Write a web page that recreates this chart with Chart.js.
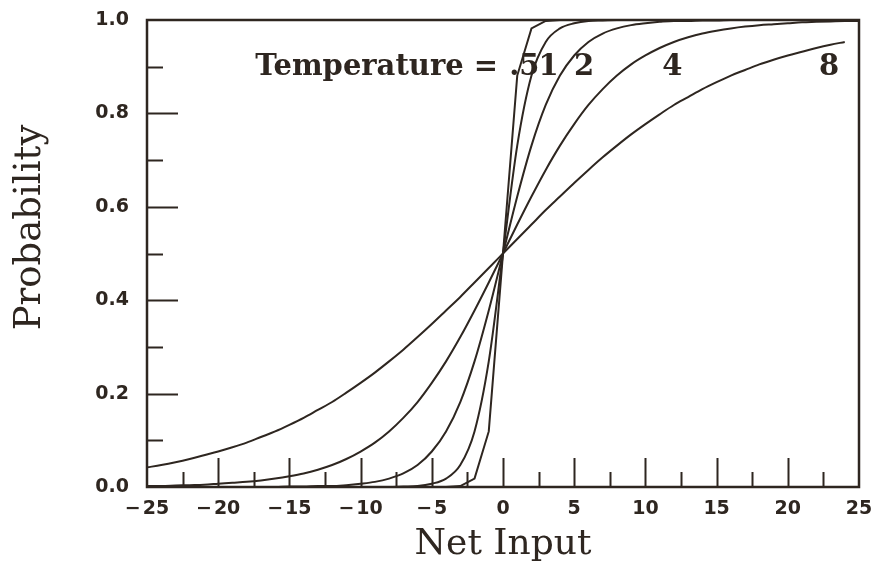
<!DOCTYPE html>
<html>
<head>
<meta charset="utf-8">
<script src="https://cdn.jsdelivr.net/npm/chart.js@4.4.1/dist/chart.umd.min.js"></script>
<style>
  html, body { margin: 0; padding: 0; background: #fff; }
  #wrap { width: 874px; height: 561px; position: relative; }
</style>
</head>
<body>
<div id="wrap"><canvas id="chart"></canvas></div>
<script>
// Net input values (x axis), one per integer step
const netInput = [
  -25, -24, -23, -22, -21, -20, -19, -18, -17, -16, -15, -14, -13, -12, -11, -10,
  -9, -8, -7, -6, -5, -4, -3, -2, -1, 0, 1, 2, 3, 4, 5, 6, 7, 8, 9,
  10, 11, 12, 13, 14, 15, 16, 17, 18, 19, 20, 21, 22, 23, 24, 25
];

// Probability, same order as netInput
const probT05 = [
  0, 0, 0, 0, 0, 0, 0, 0, 0, 0, 0, 0, 0, 0, 0, 0, 0, 0, 0, 0, 0, 0,
  0.002, 0.018, 0.119, 0.5, 0.881, 0.982, 0.998,
  1, 1, 1, 1, 1, 1, 1, 1, 1, 1, 1, 1, 1, 1, 1, 1, 1, 1, 1, 1, 1, 1, 1
];
const probT1 = [
  0, 0, 0, 0, 0, 0, 0, 0, 0, 0, 0, 0, 0, 0, 0, 0, 0, 0,
  0.001, 0.002, 0.007, 0.018, 0.047, 0.119, 0.269, 0.5,
  0.731, 0.881, 0.953, 0.982, 0.993, 0.998, 0.999,
  1, 1, 1, 1, 1, 1, 1, 1, 1, 1, 1, 1, 1, 1, 1, 1, 1, 1
];
const probT2 = [
  0, 0, 0, 0, 0, 0, 0, 0, 0, 0,
  0.001, 0.001, 0.002, 0.002, 0.004, 0.007, 0.011, 0.018, 0.029, 0.047,
  0.076, 0.119, 0.182, 0.269, 0.378, 0.5,
  0.622, 0.731, 0.818, 0.881, 0.924, 0.953, 0.971, 0.982, 0.989, 0.993,
  0.996, 0.998, 0.998, 0.999, 0.999,
  1, 1, 1, 1, 1, 1, 1, 1, 1, 1
];
const probT4 = [
  0.002, 0.002, 0.003, 0.004, 0.005, 0.007, 0.009, 0.011, 0.014, 0.018,
  0.023, 0.029, 0.037, 0.047, 0.060, 0.076, 0.095, 0.119, 0.148, 0.182,
  0.223, 0.269, 0.321, 0.378, 0.438, 0.5,
  0.562, 0.622, 0.679, 0.731, 0.777, 0.818, 0.852, 0.881, 0.905, 0.924,
  0.940, 0.953, 0.963, 0.971, 0.977, 0.982, 0.986, 0.989, 0.991, 0.993,
  0.995, 0.996, 0.997, 0.998, 0.998
];
const probT8 = [
  0.042, 0.047, 0.053, 0.060, 0.068, 0.076, 0.085, 0.095, 0.107, 0.119,
  0.133, 0.148, 0.165, 0.182, 0.202, 0.223, 0.245, 0.269, 0.294, 0.321,
  0.349, 0.378, 0.407, 0.438, 0.469, 0.5,
  0.531, 0.562, 0.593, 0.622, 0.651, 0.679, 0.706, 0.731, 0.755, 0.777,
  0.798, 0.818, 0.835, 0.852, 0.867, 0.881, 0.893, 0.905, 0.915, 0.924,
  0.932, 0.940, 0.947, 0.953, null
];

const temperatures = ['.5', '1', '2', '4', '8'];
const seriesValues = [probT05, probT1, probT2, probT4, probT8];

const INK = '#2e2620';
const SERIF = 'DejaVu Serif';

// tick marks point inward, long at labelled values, short in between
const frameAndTicks = {
  id: 'frameAndTicks',
  afterDatasetsDraw(chart) {
    const { ctx, chartArea: a, scales: { x, y } } = chart;
    ctx.save();
    ctx.strokeStyle = INK;
    ctx.lineWidth = 2;
    ctx.beginPath();
    x.ticks.forEach(t => {
      if (t.value <= x.min || t.value >= x.max) return;
      const px = Math.round(x.getPixelForValue(t.value)) + 0.5;
      const len = t.value % 5 === 0 ? 29 : 15;
      ctx.moveTo(px, a.bottom);
      ctx.lineTo(px, a.bottom - len);
    });
    y.ticks.forEach(t => {
      if (t.value <= y.min || t.value >= y.max) return;
      const py = Math.round(y.getPixelForValue(t.value)) + 0.5;
      const len = Math.round(t.value * 10) % 2 === 0 ? 31 : 16;
      ctx.moveTo(a.left, py);
      ctx.lineTo(a.left + len, py);
    });
    ctx.stroke();
    ctx.lineWidth = 2.5;
    ctx.strokeRect(a.left, a.top, a.right - a.left, a.bottom - a.top);
    ctx.restore();
  }
};

// "Temperature = .5 1 2 4 8" labels placed along the top of the curves
const tempLabels = {
  id: 'tempLabels',
  afterDatasetsDraw(chart, args, opts) {
    const { ctx, scales: { x, y } } = chart;
    ctx.save();
    ctx.fillStyle = INK;
    ctx.font = `bold 29px "${SERIF}"`;
    ctx.textBaseline = 'alphabetic';
    const by = y.getPixelForValue(opts.baseline);
    ctx.textAlign = 'right';
    ctx.fillText('Temperature =', x.getPixelForValue(opts.prefixEnd), by);
    ctx.textAlign = 'center';
    temperatures.forEach((t, i) => {
      ctx.fillText(t, x.getPixelForValue(opts.at[i]), by);
    });
    ctx.restore();
  }
};

// y title is set a little above the middle of the axis, as in the source
const yTitle = {
  id: 'yTitle',
  afterDraw(chart) {
    const { ctx, chartArea: a } = chart;
    ctx.save();
    ctx.fillStyle = INK;
    ctx.font = `37px "${SERIF}"`;
    ctx.textAlign = 'center';
    ctx.textBaseline = 'middle';
    ctx.translate(30, (a.top + a.bottom) / 2 - 26);
    ctx.rotate(-Math.PI / 2);
    ctx.fillText('Probability', 0, 0);
    ctx.restore();
  }
};

new Chart(document.getElementById('chart'), {
  type: 'line',
  data: {
    datasets: seriesValues.map((vals, i) => ({
      label: 'T = ' + temperatures[i],
      data: netInput.map((v, j) => ({ x: v, y: vals[j] })),
      borderColor: INK,
      borderWidth: 2,
      pointRadius: 0,
      tension: 0,
      cubicInterpolationMode: i === 0 ? 'default' : 'monotone',
      fill: false,
      spanGaps: false
    }))
  },
  options: {
    responsive: true,
    maintainAspectRatio: false,
    animation: false,
    layout: { padding: { top: 20, right: 15, bottom: 0, left: 0 } },
    plugins: {
      legend: { display: false },
      tooltip: { enabled: false },
      tempLabels: { baseline: 0.882, prefixEnd: -0.35, at: [1.5, 3.2, 5.7, 11.9, 22.9] }
    },
    scales: {
      x: {
        type: 'linear',
        min: -25,
        max: 25,
        afterFit: s => { s.height = 74; s.paddingLeft = 0; s.paddingRight = 0; },
        grid: { display: false, drawTicks: false },
        border: { display: false },
        ticks: {
          stepSize: 2.5,
          autoSkip: false,
          maxRotation: 0,
          padding: 11,
          color: INK,
          font: { family: 'DejaVu Sans', size: 19, weight: 'bold' },
          callback: v => (v % 5 === 0 ? (v < 0 ? '\u2212\u200a' + Math.abs(v) : String(v)) : '')
        },
        title: {
          display: true,
          text: 'Net Input',
          color: INK,
          font: { family: SERIF, size: 36, lineHeight: 1 },
          padding: { top: 0, bottom: -2 }
        }
      },
      y: {
        min: 0,
        max: 1,
        afterFit: s => { s.width = 147; s.paddingTop = 0; s.paddingBottom = 0; },
        grid: { display: false, drawTicks: false },
        border: { display: false },
        ticks: {
          stepSize: 0.1,
          autoSkip: false,
          padding: 18,
          color: INK,
          font: { family: 'DejaVu Sans', size: 19, weight: 'bold' },
          callback: v => (Math.round(v * 10) % 2 === 0 ? v.toFixed(1) : '')
        }
      }
    }
  },
  plugins: [frameAndTicks, tempLabels, yTitle]
});
</script>
</body>
</html>
